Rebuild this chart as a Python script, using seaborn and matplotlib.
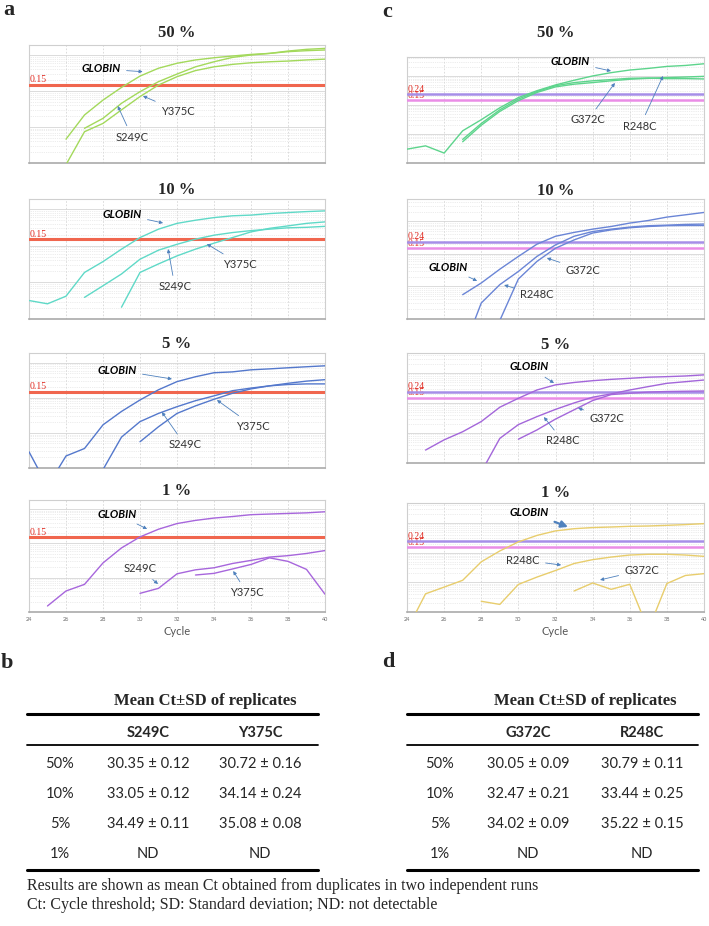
import numpy as np
import pandas as pd
import matplotlib

matplotlib.use("Agg")

import matplotlib.pyplot as plt
from matplotlib.lines import Line2D
from matplotlib.ticker import FixedLocator, LogLocator, NullFormatter
import seaborn as sns

# ---- data (cycle 24..40, NaN = not drawn) ----
CYCLES = list(range(24, 41))
nan = np.nan

# panel a: S249C / Y375C assay
A50_GLOBIN = [nan, nan, 0.0046, 0.0216, 0.056, 0.126, 0.26, 0.43, 0.59, 0.73, 0.84, 0.94, 1.04, 1.11, 1.24, 1.32, 1.38]
A50_S249C = [nan, nan, 0.0009, 0.0074, 0.0126, 0.03, 0.07, 0.147, 0.25, 0.37, 0.47, 0.55, 0.61, 0.65, 0.68, 0.73, 0.77]
A50_Y375C = [nan, nan, nan, 0.0092, 0.0174, 0.0456, 0.096, 0.182, 0.296, 0.47, 0.65, 0.86, 1.0, 1.11, 1.29, 1.44, 1.53]

A10_GLOBIN = [0.0032, 0.0026, 0.0042, 0.0187, 0.037, 0.081, 0.168, 0.285, 0.41, 0.50, 0.59, 0.66, 0.69, 0.76, 0.81, 0.86, 0.90]
A10_S249C = [nan, nan, nan, 0.0039, 0.0081, 0.017, 0.043, 0.076, 0.11, 0.152, 0.195, 0.23, 0.26, 0.285, 0.31, 0.32, 0.34]
A10_Y375C = [nan, nan, nan, nan, nan, 0.0021, 0.0187, 0.032, 0.053, 0.081, 0.118, 0.168, 0.24, 0.30, 0.35, 0.41, 0.45]

A5_GLOBIN = [0.0029, 0.0003, 0.0022, 0.0036, 0.017, 0.041, 0.087, 0.17, 0.29, 0.40, 0.52, 0.55, 0.63, 0.67, 0.72, 0.77, 0.82]
A5_S249C = [nan, nan, nan, nan, 0.0009, 0.0076, 0.021, 0.036, 0.056, 0.083, 0.114, 0.16, 0.19, 0.22, 0.24, 0.25, 0.25]
A5_Y375C = [nan, nan, nan, nan, nan, nan, 0.0056, 0.015, 0.036, 0.059, 0.091, 0.135, 0.18, 0.22, 0.26, 0.30, 0.33]

A1_GLOBIN = [nan, 0.0015, 0.0041, 0.0064, 0.027, 0.074, 0.155, 0.26, 0.38, 0.47, 0.55, 0.61, 0.69, 0.72, 0.75, 0.78, 0.84]
A1_S249C = [nan, nan, nan, nan, nan, nan, 0.0035, 0.0049, 0.013, 0.017, 0.0195, 0.026, 0.032, 0.040, 0.044, 0.051, 0.062]
A1_Y375C = [nan, nan, nan, nan, nan, nan, nan, nan, nan, 0.012, 0.0134, 0.018, 0.0244, 0.038, 0.030, 0.0175, 0.0033]

# panel c: G372C / R248C assay
C50_GLOBIN = [0.0030, 0.0039, 0.0022, 0.0129, 0.031, 0.080, 0.18, 0.31, 0.49, 0.71, 1.0, 1.30, 1.6, 1.82, 2.13, 2.3, 2.63]
C50_G372C = [nan, nan, nan, 0.0054, 0.020, 0.060, 0.141, 0.27, 0.42, 0.52, 0.59, 0.68, 0.77, 0.83, 0.88, 0.92, 0.97]
C50_R248C = [nan, nan, nan, 0.0065, 0.023, 0.068, 0.16, 0.29, 0.46, 0.59, 0.68, 0.75, 0.83, 0.85, 0.81, 0.81, 0.79]

C10_GLOBIN = [nan, nan, nan, 0.0056, 0.0128, 0.034, 0.084, 0.20, 0.35, 0.46, 0.58, 0.70, 0.89, 1.07, 1.36, 1.6, 1.89]
C10_G372C = [nan, nan, nan, nan, nan, 0.0009, 0.017, 0.059, 0.15, 0.27, 0.44, 0.55, 0.64, 0.70, 0.74, 0.75, 0.75]
C10_R248C = [nan, nan, nan, 0.0001, 0.0031, 0.0114, 0.029, 0.084, 0.19, 0.35, 0.49, 0.58, 0.67, 0.74, 0.77, 0.81, 0.83]

C5_GLOBIN = [nan, 0.0027, 0.0059, 0.011, 0.024, 0.072, 0.143, 0.27, 0.40, 0.48, 0.55, 0.61, 0.66, 0.72, 0.75, 0.79, 0.86]
C5_G372C = [nan, nan, nan, nan, nan, nan, 0.0062, 0.0126, 0.029, 0.059, 0.12, 0.19, 0.21, 0.23, 0.24, 0.245, 0.25]
C5_R248C = [nan, nan, nan, nan, 0.0005, 0.0066, 0.019, 0.035, 0.061, 0.10, 0.155, 0.20, 0.27, 0.35, 0.45, 0.51, 0.58]

C1_GLOBIN = [0.00025, 0.0041, 0.0069, 0.0117, 0.049, 0.114, 0.23, 0.38, 0.54, 0.64, 0.70, 0.73, 0.77, 0.79, 0.83, 0.88, 0.95]
C1_G372C = [nan, nan, nan, nan, nan, nan, nan, nan, nan, 0.0051, 0.0095, 0.0058, 0.0086, 0.00025, 0.0091, 0.017, 0.0196]
C1_R248C = [nan, nan, nan, nan, 0.0023, 0.0018, 0.0085, 0.015, 0.025, 0.043, 0.058, 0.071, 0.083, 0.088, 0.088, 0.083, 0.075]

THRESH_A = [0.15]
THRESH_C = [0.24, 0.15]

# tables b and d
DILUTIONS = ["50%", "10%", "5%", "1%"]
B_COLS = ["S249C", "Y375C"]
B_S249C_MEAN = [30.35, 33.05, 34.49, None]
B_S249C_SD = [0.12, 0.12, 0.11, None]
B_Y375C_MEAN = [30.72, 34.14, 35.08, None]
B_Y375C_SD = [0.16, 0.24, 0.08, None]
D_COLS = ["G372C", "R248C"]
D_G372C_MEAN = [30.05, 32.47, 34.02, None]
D_G372C_SD = [0.09, 0.21, 0.09, None]
D_R248C_MEAN = [30.79, 33.44, 35.22, None]
D_R248C_SD = [0.11, 0.25, 0.15, None]

W, H = 709, 926
SERIF = "Liberation Serif"
SANS = "Lato"

sns.set_style("white")
plt.rcParams["font.family"] = [SANS, "DejaVu Sans"]

fig = plt.figure(figsize=(W / 100, H / 100), dpi=100)


def fx(x):
    return x / W


def fy(y):
    return 1 - y / H


def make_df(series):
    rows = []
    for name, vals in series.items():
        for c, v in zip(CYCLES, vals):
            if not np.isnan(v):
                rows.append({"cycle": c, "value": v, "target": name})
    return pd.DataFrame(rows)


def panel(x0, x1, top, bottom, ymax, series, color, thresholds, notes, show_x):
    ax = fig.add_axes([fx(x0), fy(bottom), (x1 - x0) / W, (bottom - top) / H])
    df = make_df(series)
    sns.lineplot(data=df, x="cycle", y="value", units="target", estimator=None,
                 color=color, lw=1.0, ax=ax, legend=False, zorder=4)
    ax.set_yscale("log")
    ax.set_ylim(1e-3, ymax)
    ax.set_xlim(24, 40)
    ax.set_xticks(range(24, 41, 2))
    ax.yaxis.set_major_locator(FixedLocator([1e-3, 1e-2, 1e-1, 1]))
    ax.yaxis.set_minor_locator(LogLocator(base=10, subs=np.arange(2, 10)))
    ax.yaxis.set_major_formatter(NullFormatter())
    ax.yaxis.set_minor_formatter(NullFormatter())
    ax.grid(True, which="major", axis="y", color="#d6d6d6", lw=0.6)
    ax.grid(True, which="minor", axis="y", color="#dadada", lw=0.5, ls=":")
    ax.grid(True, which="major", axis="x", color="#d6d6d6", lw=0.6, ls=(0, (2, 2)))
    ax.tick_params(axis="y", which="minor", length=0)
    ax.tick_params(axis="y", which="major", length=2, width=0.6, color="#999999")
    ax.tick_params(axis="x", length=2, width=0.6, color="#999999", labelsize=4,
                   labelcolor="#666666", pad=1.5)
    ax.set_xlabel("")
    ax.set_ylabel("")
    if show_x:
        ax.set_xlabel("Cycle", fontsize=8, color="#555555", labelpad=3)
    else:
        ax.tick_params(axis="x", labelbottom=False)
    for s in ax.spines.values():
        s.set_color("#cfcfcf")
        s.set_linewidth(0.8)
    ax.spines["bottom"].set_color("#aaaaaa")
    ax.spines["bottom"].set_linewidth(1.2)

    ytr = ax.get_yaxis_transform()
    if len(thresholds) == 1:
        ax.axhline(thresholds[0], color="#F0664E", lw=2.2, zorder=3)
        ax.text(0.002, thresholds[0] * 1.04, f"{thresholds[0]:.2f}", transform=ytr,
                color="#E02A20", fontsize=7, family=SERIF, va="bottom", ha="left", zorder=5)
    else:
        # the two threshold labels sit on top of each other, as in the instrument export
        ax.text(0.002, thresholds[1] * 1.02, f"{thresholds[1]:.2f}", transform=ytr,
                color="#E02A20", fontsize=7, family=SERIF, va="bottom", ha="left", zorder=2)
        ax.axhline(thresholds[1], color="#EA8DE6", lw=1.8, zorder=3)
        ax.axhline(thresholds[0], color="#A68EE8", lw=1.8, zorder=3)
        ax.text(0.002, thresholds[0] * 1.03, f"{thresholds[0]:.2f}", transform=ytr,
                color="#E02A20", fontsize=7, family=SERIF, va="bottom", ha="left", zorder=5)

    for text, txt_xy, tip_xy, big in notes:
        bold = text == "GLOBIN"
        ax.annotate(text, xy=tip_xy, xycoords="axes fraction", xytext=txt_xy,
                    textcoords="axes fraction", ha="center", va="center", fontsize=8,
                    fontweight="bold" if bold else "normal",
                    style="italic" if bold else "normal",
                    color="black" if bold else "#333333", zorder=6,
                    arrowprops=dict(arrowstyle="-|>", color="#4F81BD",
                                    lw=1.6 if big else 0.6,
                                    mutation_scale=10 if big else 5,
                                    shrinkA=2, shrinkB=0))
    return ax


LX0, LX1 = 29, 325
RX0, RX1 = 407, 704

COL_A = ["#A3D95B", "#5FD9C7", "#5478CC", "#A766DC"]
COL_C = ["#5DD48C", "#6A85D6", "#A366DA", "#E8CD6C"]

# left column (a)
panel(LX0, LX1, 45, 163, 1.9, {"GLOBIN": A50_GLOBIN, "S249C": A50_S249C, "Y375C": A50_Y375C},
      COL_A[0], THRESH_A,
      [("GLOBIN", (0.243, 0.797), (0.384, 0.774), False),
       ("Y375C", (0.503, 0.44), (0.385, 0.568), False),
       ("S249C", (0.348, 0.22), (0.30, 0.483), False)], False)
panel(LX0, LX1, 199, 319, 1.9, {"GLOBIN": A10_GLOBIN, "S249C": A10_S249C, "Y375C": A10_Y375C},
      COL_A[1], THRESH_A,
      [("GLOBIN", (0.314, 0.875), (0.453, 0.80), False),
       ("S249C", (0.493, 0.267), (0.47, 0.583), False),
       ("Y375C", (0.713, 0.458), (0.601, 0.625), False)], False)
panel(LX0, LX1, 353, 468, 1.9, {"GLOBIN": A5_GLOBIN, "S249C": A5_S249C, "Y375C": A5_Y375C},
      COL_A[2], THRESH_A,
      [("GLOBIN", (0.297, 0.852), (0.483, 0.774), False),
       ("S249C", (0.527, 0.20), (0.449, 0.487), False),
       ("Y375C", (0.757, 0.365), (0.635, 0.591), False)], False)
panel(LX0, LX1, 500, 612, 1.85, {"GLOBIN": A1_GLOBIN, "S249C": A1_S249C, "Y375C": A1_Y375C},
      COL_A[3], THRESH_A,
      [("GLOBIN", (0.297, 0.875), (0.399, 0.741), False),
       ("S249C", (0.375, 0.384), (0.436, 0.25), False),
       ("Y375C", (0.736, 0.17), (0.69, 0.366), False)], True)

# right column (c)
panel(RX0, RX1, 57, 163, 4.5, {"GLOBIN": C50_GLOBIN, "G372C": C50_G372C, "R248C": C50_R248C},
      COL_C[0], THRESH_C,
      [("GLOBIN", (0.549, 0.953), (0.687, 0.868), False),
       ("G372C", (0.609, 0.406), (0.70, 0.755), False),
       ("R248C", (0.785, 0.349), (0.862, 0.821), False)], False)
panel(RX0, RX1, 199, 319, 4.9, {"GLOBIN": C10_GLOBIN, "G372C": C10_G372C, "R248C": C10_R248C},
      COL_C[1], THRESH_C,
      [("GLOBIN", (0.138, 0.433), (0.236, 0.317), False),
       ("G372C", (0.593, 0.408), (0.471, 0.508), False),
       ("R248C", (0.438, 0.20), (0.327, 0.283), False)], False)
panel(RX0, RX1, 353, 463, 4.6, {"GLOBIN": C5_GLOBIN, "G372C": C5_G372C, "R248C": C5_R248C},
      COL_C[2], THRESH_C,
      [("GLOBIN", (0.411, 0.873), (0.495, 0.727), False),
       ("G372C", (0.673, 0.409), (0.576, 0.50), False),
       ("R248C", (0.525, 0.20), (0.461, 0.418), False)], False)
panel(RX0, RX1, 503, 612, 4.7, {"GLOBIN": C1_GLOBIN, "G372C": C1_G372C, "R248C": C1_R248C},
      COL_C[3], THRESH_C,
      [("GLOBIN", (0.411, 0.917), (0.542, 0.78), True),
       ("R248C", (0.39, 0.477), (0.519, 0.431), False),
       ("G372C", (0.791, 0.385), (0.65, 0.294), False)], True)

# titles and panel letters
for cx, titles in [(177, [(37, "50 %"), (194, "10 %"), (348, "5 %"), (495, "1 %")]),
                   (556, [(37, "50 %"), (195, "10 %"), (349, "5 %"), (497, "1 %")])]:
    for by, t in titles:
        fig.text(fx(cx), fy(by), t, ha="center", va="baseline", fontsize=12,
                 fontweight="bold", family=SERIF)

for x, y, t in [(3, 15, "a"), (382, 17, "c"), (1, 668, "b"), (382, 667, "d")]:
    fig.text(fx(x), fy(y), t, ha="left", va="baseline", fontsize=16,
             fontweight="bold", family=SERIF)


def fmt(means, sds):
    return ["ND" if m is None else f"{m:.2f} \u00b1 {s:.2f}" for m, s in zip(means, sds)]


def table(x0, x1, hdr_x, label_x, col_x, cols, col_vals):
    fig.text(fx(hdr_x), fy(705), "Mean Ct\u00b1SD of replicates", ha="center", va="baseline",
             fontsize=12, fontweight="bold", family=SERIF)
    for y, lw in [(714, 2.2), (745, 1.3), (870, 2.2)]:
        fig.add_artist(Line2D([fx(x0), fx(x1)], [fy(y), fy(y)], color="black", lw=lw,
                              transform=fig.transFigure))
    for cxx, name in zip(col_x, cols):
        fig.text(fx(cxx), fy(737), name, ha="center", va="baseline", fontsize=10.5,
                 fontweight="bold")
    for i, (base, lab) in enumerate(zip([768, 798, 828, 858], DILUTIONS)):
        fig.text(fx(label_x), fy(base), lab, ha="center", va="baseline", fontsize=10.5)
        for cxx, vals in zip(col_x, col_vals):
            fig.text(fx(cxx), fy(base), vals[i], ha="center", va="baseline", fontsize=10.5)


table(27, 318, 205, 60, [148, 260], B_COLS,
      [fmt(B_S249C_MEAN, B_S249C_SD), fmt(B_Y375C_MEAN, B_Y375C_SD)])
table(407, 698, 585, 440, [528, 642], D_COLS,
      [fmt(D_G372C_MEAN, D_G372C_SD), fmt(D_R248C_MEAN, D_R248C_SD)])

fig.text(fx(27), fy(890), "Results are shown as mean Ct obtained from duplicates in two independent runs",
         ha="left", va="baseline", fontsize=11.5, family=SERIF)
fig.text(fx(27), fy(909), "Ct: Cycle threshold; SD: Standard deviation; ND: not detectable",
         ha="left", va="baseline", fontsize=11.5, family=SERIF)

fig.savefig("out.png", dpi=100)
